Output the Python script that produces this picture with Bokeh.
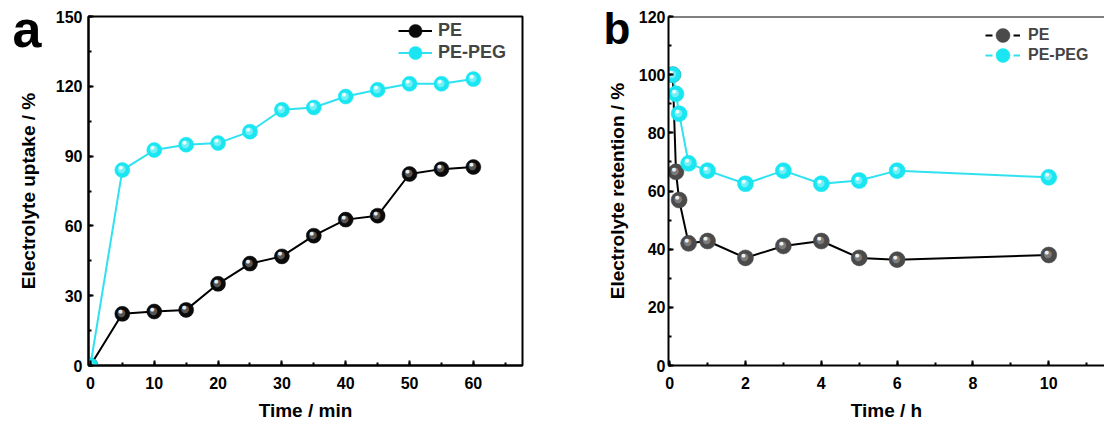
from bokeh.plotting import figure
from bokeh.layouts import row
from bokeh.models import (Range1d, SingleIntervalTicker, FixedTicker, Legend, LegendItem,
                          LinearAxis, Span, Label, ColumnDataSource)
from bokeh.core.properties import value
from bokeh.embed import file_html
from bokeh.resources import INLINE

# ---------------- data ----------------
uptake_time = [0, 5, 10, 15, 20, 25, 30, 35, 40, 45, 50, 55, 60]
uptake_pe = [0, 22.2, 23.2, 23.9, 35.1, 43.8, 46.9, 55.8, 62.7, 64.4, 82.3, 84.4, 85.3]
uptake_peg = [0, 84.0, 92.6, 94.9, 95.6, 100.5, 109.9, 110.9, 115.6, 118.5, 121.1, 121.1, 123.1]

retention_time = [0.083, 0.167, 0.25, 0.5, 1, 2, 3, 4, 5, 6, 10]
retention_pe = [100, 66.6, 56.9, 42.0, 42.8, 37.0, 41.1, 42.8, 37.0, 36.4, 38.0]
retention_peg = [100, 93.4, 86.6, 69.5, 67.0, 62.5, 67.0, 62.5, 63.6, 67.0, 64.7]

series_names = ["PE", "PE-PEG"]
panel_letters = ["a", "b"]

FONT = "Liberation Sans"
CYAN_LINE = "#30e2f0"
CYAN = "#1ae6f2"


def style(p, xlabel, ylabel, xint, yint, ytick_standoff, ylab_standoff):
    p.grid.visible = False
    p.outline_line_color = "black"
    p.outline_line_width = 2
    p.xaxis.ticker = SingleIntervalTicker(interval=xint, num_minor_ticks=2)
    p.yaxis.ticker = SingleIntervalTicker(interval=yint, num_minor_ticks=2)
    p.xaxis.axis_label = xlabel
    p.yaxis.axis_label = ylabel
    for ax in list(p.xaxis) + list(p.yaxis):
        ax.axis_line_width = 2
        ax.axis_line_color = "black"
        ax.major_tick_in = 5
        ax.major_tick_out = 0
        ax.minor_tick_in = 3
        ax.minor_tick_out = 0
        ax.major_tick_line_width = 2
        ax.minor_tick_line_width = 2
        ax.major_label_text_font = FONT
        ax.major_label_text_font_style = "bold"
        ax.major_label_text_font_size = "16px"
        ax.major_label_text_color = "black"
        ax.axis_label_text_font = FONT
        ax.axis_label_text_font_style = "bold"
        ax.axis_label_text_font_size = "19px"
        ax.axis_label_text_color = "black"
    p.xaxis.major_label_standoff = 11
    p.xaxis.axis_label_standoff = 8
    p.yaxis.major_label_standoff = ytick_standoff
    p.yaxis.axis_label_standoff = ylab_standoff


def letter_axis(p, letter, tick, standoff, size):
    ax = LinearAxis(ticker=FixedTicker(ticks=[tick], minor_ticks=[]),
                    major_label_overrides={tick: letter},
                    axis_line_color=None, major_tick_line_color=None, minor_tick_line_color=None,
                    major_tick_in=0, major_tick_out=0, minor_tick_in=0, minor_tick_out=0,
                    major_label_standoff=standoff, major_label_text_font=FONT,
                    major_label_text_font_style="bold", major_label_text_font_size=size,
                    major_label_text_color="black")
    p.add_layout(ax, "left")


def sphere(p, x, y, base, mid, spot, size):
    src = ColumnDataSource(dict(x=x, y=y))
    r = p.scatter("x", "y", source=src, marker="circle", size=size,
                  fill_color=base, line_color=base, line_width=0.5)
    p.text("x", "y", source=src, text=value("\u25cf"), text_font=value("DejaVu Sans"),
           text_font_size=value("10px"), text_color=mid, text_alpha=0.55,
           text_align="center", text_baseline="middle", x_offset=-1, y_offset=-1.5)
    p.text("x", "y", source=src, text=value("\u25cf"), text_font=value("DejaVu Sans"),
           text_font_size=value("5px"), text_color=spot, text_alpha=0.9,
           text_align="center", text_baseline="middle", x_offset=-2, y_offset=-3)
    return r, src


def one_legend(p, label, renderers, x, y, gw, gh, fsize, standoff):
    p.add_layout(Legend(items=[LegendItem(label=label, renderers=renderers)],
                        location=(x, y), orientation="vertical",
                        background_fill_alpha=0, border_line_color=None,
                        glyph_width=gw, glyph_height=gh, label_height=20, spacing=0,
                        padding=0, margin=0, label_standoff=standoff,
                        label_text_font=FONT, label_text_font_style="bold",
                        label_text_font_size=fsize))


# ---------------- panel a ----------------
pa = figure(width=551, height=430, output_backend="svg", toolbar_location=None,
            x_range=Range1d(-0.3, 67.7), y_range=Range1d(0, 150),
            min_border_left=88, min_border_right=29, min_border_top=16, min_border_bottom=65)
style(pa, "Time / min", "Electrolyte uptake / %", 10, 30, 6, 14)
# panel letter: a label hosted in the right side panel so it is not clipped to the frame
pa.add_layout(Label(x=-12.2, y=144.6, text=panel_letters[0], text_font=FONT,
                    text_font_style="bold", text_font_size="52px",
                    text_baseline="alphabetic", text_align="left", text_color="black"), "right")

la_pe = pa.line(uptake_time, uptake_pe, line_color="black", line_width=2)
ma_pe, _ = sphere(pa, uptake_time, uptake_pe, "#0a0a0a", "#9a9a9a", "#ffffff", 15)
la_peg = pa.line(uptake_time, uptake_peg, line_color=CYAN_LINE, line_width=2)
ma_peg, _ = sphere(pa, uptake_time, uptake_peg, CYAN, "#bff8fc", "#ffffff", 15)

one_legend(pa, series_names[0], [la_pe, ma_pe], 310, 318, 34, 33, "18px", 6)
one_legend(pa, series_names[1], [la_peg, ma_peg], 310, 296, 34, 33, "18px", 6)

# ---------------- panel b ----------------
pb = figure(width=553, height=430, output_backend="svg", toolbar_location=None,
            x_range=Range1d(-0.03, 11.47), y_range=Range1d(0, 120),
            min_border_left=117, min_border_right=0, min_border_top=16, min_border_bottom=65)
style(pb, "Time / h", "Electrolyte retention / %", 2, 20, 3, 8)
letter_axis(pb, panel_letters[1], 116, -27, "44px")
pb.outline_line_color = None
pb.add_layout(Span(location=120, dimension="width", line_color="black", line_width=2))

lb_pe = pb.line(retention_time, retention_pe, line_color="black", line_width=2)
mb_pe, src_pe = sphere(pb, retention_time, retention_pe, "#4a4a4a", "#a8a8a8", "#ffffff", 16)
lb_peg = pb.line(retention_time, retention_peg, line_color=CYAN_LINE, line_width=2)
mb_peg, src_peg = sphere(pb, retention_time, retention_peg, CYAN, "#bff8fc", "#ffffff", 16)

# hidden dashed copies used only to draw the "-o-" legend glyphs
gb_pe_line = pb.line("x", "y", source=src_pe, line_color="black", line_width=2,
                     line_dash="7 21", visible=False)
gb_peg_line = pb.line("x", "y", source=src_peg, line_color=CYAN_LINE, line_width=2,
                      line_dash="7 21", visible=False)

one_legend(pb, series_names[0], [gb_pe_line, mb_pe], 317, 312, 35, 36, "16px", 8)
one_legend(pb, series_names[1], [gb_peg_line, mb_peg], 317, 292, 35, 36, "16px", 8)

layout = row(pa, pb)
open("out.html", "w").write(file_html(layout, INLINE))
